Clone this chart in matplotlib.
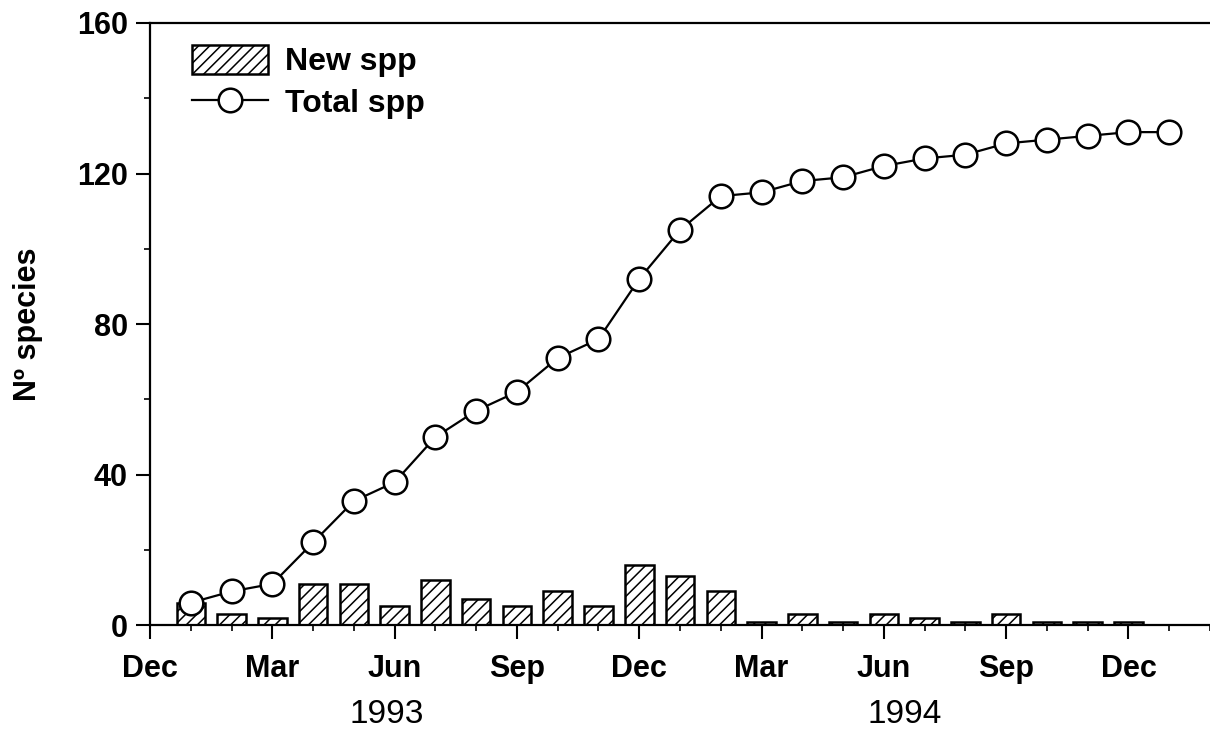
import matplotlib
matplotlib.use("Agg")
import matplotlib.pyplot as plt
from matplotlib.ticker import MultipleLocator

plt.rcParams['font.family'] = ['Liberation Sans', 'DejaVu Sans']
plt.rcParams['hatch.linewidth'] = 1.1

# months since Dec 1992
months = list(range(1, 26))
total_spp = [6, 9, 11, 22, 33, 38, 50, 57, 62, 71, 76, 92, 105, 114, 115,
             118, 119, 122, 124, 125, 128, 129, 130, 131, 131]
new_months = list(range(1, 25))
new_spp = [6, 3, 2, 11, 11, 5, 12, 7, 5, 9, 5, 16, 13, 9, 0.8, 3, 0.8, 3, 2,
           0.8, 3, 0.8, 0.8, 0.8]
tick_pos = [0, 3, 6, 9, 12, 15, 18, 21, 24]
tick_labels = ['Dec', 'Mar', 'Jun', 'Sep', 'Dec', 'Mar', 'Jun', 'Sep', 'Dec']
years = ['1993', '1994']
year_pos = [5.8, 18.5]

fig = plt.figure(figsize=(12.1, 7.4), dpi=100)
ax = fig.add_axes([0.124, 0.155, 0.876, 0.814])

bars = ax.bar(new_months, new_spp, width=0.7, facecolor='white', edgecolor='black',
              linewidth=1.8, hatch='///', label='New spp', zorder=2)
line, = ax.plot(months, total_spp, '-o', color='black', lw=1.6, ms=17,
                mfc='white', mec='black', mew=1.8, label='Total spp', zorder=3)

ax.set_xlim(0, 26)
ax.set_ylim(0, 160)
ax.set_xticks(tick_pos)
ax.set_xticklabels(tick_labels, fontsize=22, fontweight='bold')
ax.xaxis.set_minor_locator(MultipleLocator(1))
ax.set_yticks([0, 40, 80, 120, 160])
ax.set_yticklabels(['0', '40', '80', '120', '160'], fontsize=22, fontweight='bold')
ax.yaxis.set_minor_locator(MultipleLocator(20))
ax.tick_params(axis='x', which='major', direction='out', length=10, width=1.5, pad=11)
ax.tick_params(axis='y', which='major', direction='out', length=10, width=1.5, pad=6)
ax.tick_params(axis='both', which='minor', direction='out', length=4, width=1.2)
ax.spines['right'].set_visible(False)
for s in ['left', 'bottom', 'top']:
    ax.spines[s].set_linewidth(1.6)

ax.set_ylabel('Nº species', fontsize=22, fontweight='bold', labelpad=24)

for y, p in zip(years, year_pos):
    ax.text(p, -0.148, y, transform=ax.get_xaxis_transform(), ha='center',
            va='center', fontsize=24)

leg = ax.legend([bars, line], ['New spp', 'Total spp'], loc='upper left',
                frameon=False, prop={'weight': 'bold', 'size': 23},
                handlelength=2.35, handleheight=1.0, borderaxespad=0,
                borderpad=0, labelspacing=0.3, handletextpad=0.55,
                bbox_to_anchor=(0.040, 0.963))

fig.savefig('out.png', dpi=100)
